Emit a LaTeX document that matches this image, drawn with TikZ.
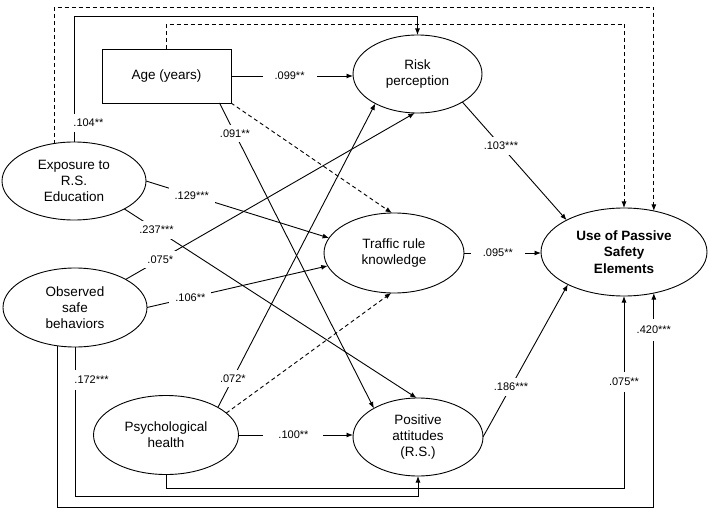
\documentclass[tikz,border=0pt]{standalone}
\usepackage{fontspec}
\setmainfont{Liberation Sans}
\usetikzlibrary{arrows.meta,shapes.geometric}
\begin{document}
\begin{tikzpicture}[x=1pt,y=-1pt,
  txt/.style={font=\fontsize{13.5}{16.3}\selectfont, align=center},
  box/.style={draw, rectangle, minimum width=129pt, minimum height=54pt, inner sep=0pt, outer sep=0pt, txt},
  ell/.style={draw, ellipse, inner sep=0pt, outer sep=0pt, txt},
  arr/.style={-{Latex[length=6.5pt,width=5pt]}, line width=0.9pt},
  dsh/.style={dash pattern=on 4pt off 3pt},
  coef/.style={fill=white, font=\fontsize{11}{12}\selectfont, inner xsep=6pt, inner ysep=5pt},
  wide/.style={inner xsep=12pt}
]
\useasboundingbox (0,0) rectangle (708,518);
\tikzset{every path/.append style={line width=0.9pt}}

\node[box] (age) at (166.5,76) {Age (years)};
\node[ell, minimum width=129pt, minimum height=78pt] (risk) at (417.5,74) {Risk\\perception};
\node[ell, minimum width=144pt, minimum height=78pt] (expo) at (74,181) {Exposure to\\R.S.\\Education};
\node[ell, minimum width=144pt, minimum height=79pt] (obs) at (75,307.5) {Observed\\safe\\behaviors};
\node[ell, minimum width=140pt, minimum height=80pt] (traf) at (394,253) {Traffic rule\\knowledge};
\node[ell, minimum width=166pt, minimum height=88pt, font=\bfseries\fontsize{13.5}{16.3}\selectfont] (use) at (624,252) {Use of Passive\\Safety\\Elements};
\node[ell, minimum width=145pt, minimum height=79pt] (psy) at (166,435) {Psychological\\health};
\node[ell, minimum width=130pt, minimum height=78pt] (pos) at (418,437) {Positive\\attitudes\\(R.S.)};

\coordinate (t0) at (0,7);
\coordinate (t1) at (0,16);
\coordinate (t2) at (0,24);
\coordinate (b1) at (0,488);
\coordinate (b2) at (0,496);
\coordinate (b3) at (0,507);

\draw[arr,dsh] (expo.118) -- (expo.118 |- t0) -| (use.54);
\draw[arr] (expo.north) -- node[coef, pos=0.15, anchor=west, xshift=-5pt, inner xsep=4pt]{.104**} (expo.north |- t1) -| (risk.north);
\draw[arr,dsh] (age.north) -- (age.north |- t2) -| (use.north);
\draw[arr] (age.east) -- node[coef,wide,pos=0.48]{.099**} (age.east -| risk.west);
\draw[arr,dsh] (age.south east) -- (traf.93);
\draw[arr] (age.-27) -- node[coef,pos=0.1]{.091**} (pos.147);
\draw[arr] (expo.east) -- node[coef,pos=0.25]{.129***} (traf.167);
\draw[arr] (expo.-29) -- node[coef,pos=0.11]{.237***} (pos.92);
\draw[arr] (obs.29) -- node[coef,pos=0.12]{.075*} (risk.-94);
\draw[arr] (obs.east) -- node[coef,pos=0.24]{.106**} (traf.191);
\draw[arr] (psy.28) -- node[coef,pos=0.095]{.072*} (risk.215);
\draw[arr,dsh] (psy.20) -- (traf.266);
\draw[arr] (psy.east) -- node[coef,wide,inner xsep=15pt,pos=0.48]{.100**} (psy.east -| pos.west);
\draw[arr] (risk.-32) -- node[coef,pos=0.37]{.103***} (use.151);
\draw[arr] (traf.east) -- node[coef,wide,pos=0.44]{.095**} (traf.east -| use.west);
\draw[arr] (pos.east) -- node[coef,pos=0.33]{.186***} (use.210);
\draw[arr] (psy.south) -- (psy.south |- b1) -- (use.south |- b1) -- node[coef,pos=0.552,inner ysep=6pt]{.075**} (use.south);
\draw[arr] (obs.south) -- node[coef,pos=0.22,anchor=west,xshift=-5pt,inner xsep=4pt,inner ysep=6pt]{.172***} (obs.south |- b2) -| (pos.south);
\draw[arr] (obs.246) -- (obs.246 |- b3) -- (use.-54 |- b3) -- node[coef,pos=0.827,inner ysep=7pt]{.420***} (use.-54);
\end{tikzpicture}
\end{document}
